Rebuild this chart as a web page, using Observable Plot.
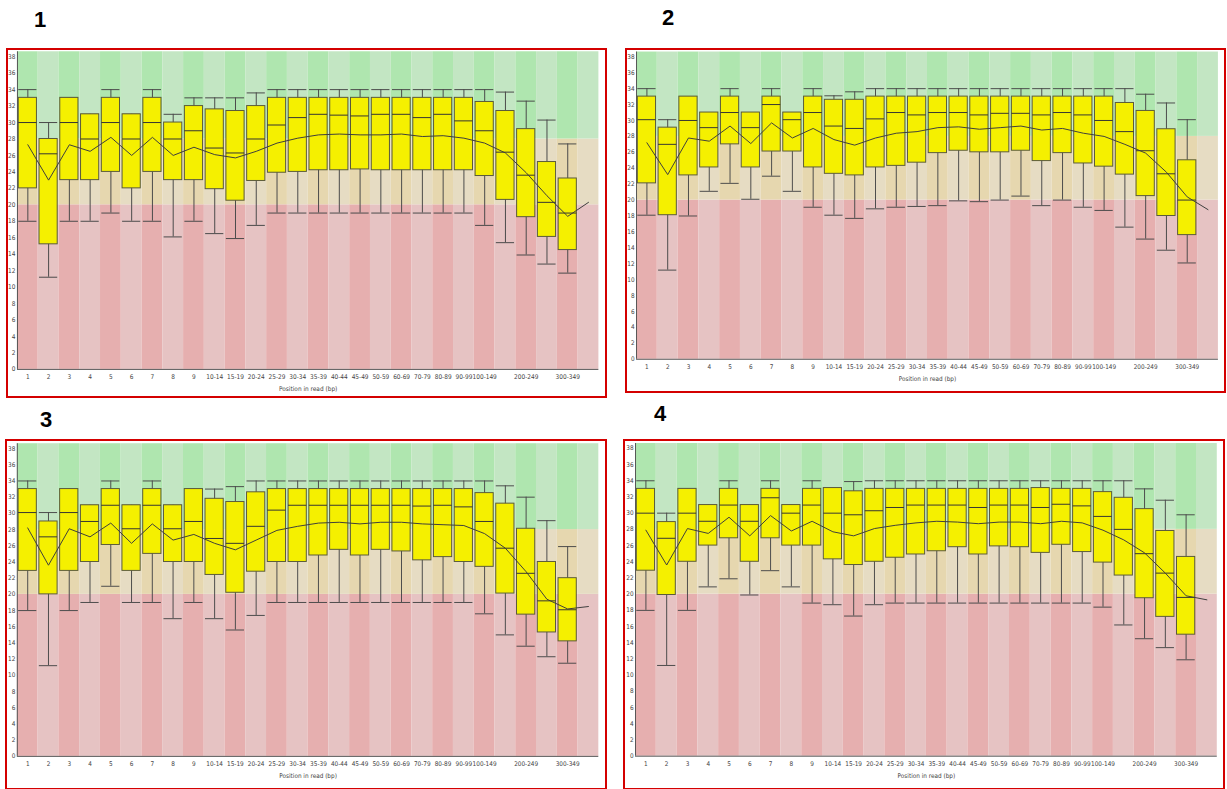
<!DOCTYPE html>
<html><head><meta charset="utf-8">
<script src="https://cdn.jsdelivr.net/npm/d3@7"></script>
<script src="https://cdn.jsdelivr.net/npm/@observablehq/plot@0.6"></script>
<style>
html,body{margin:0;padding:0;background:#fff;}
body{width:1227px;height:789px;overflow:hidden;position:relative;font-family:"Liberation Sans",Arial,sans-serif}
.num{position:absolute;font-weight:bold;font-size:22px;color:#000;line-height:1}
.panel{position:absolute;box-sizing:border-box;border:2px solid #d40000;overflow:hidden;background:#fff}
.panel svg{position:absolute;left:0;top:0;overflow:visible}
</style></head><body>
<div class="num" style="left:34px;top:9px">1</div>
<div class="num" style="left:662px;top:7px">2</div>
<div class="num" style="left:40px;top:409px">3</div>
<div class="num" style="left:654px;top:403px">4</div>
<div id="p1" class="panel"></div>
<div id="p2" class="panel"></div>
<div id="p3" class="panel"></div>
<div id="p4" class="panel"></div>
<script>
// ---------- data ----------
const positions = ["1","2","3","4","5","6","7","8","9","10-14","15-19","20-24","25-29","30-34","35-39","40-44","45-49","50-59","60-69","70-79","80-89","90-99","100-149","150-199","200-249","250-299","300-349","350-351"];
const hiddenTicks = ["150-199","250-299","350-351"];
const yTicks = [0,2,4,6,8,10,12,14,16,18,20,22,24,26,28,30,32,34,36,38];
const xTitle = "Position in read (bp)";

// Panel 1
const p1_p10 = [18,11.2,18,18,19,18,18,16.1,18,16.5,15.9,17.5,19,19,19,19,19,19,19,19,19,19,17.5,15.4,13.9,12.8,11.7];
const p1_q1  = [22,15.2,23,23,24,22,24,23,23,21.9,20.5,22.9,23.9,24,24.2,24.2,24.3,24.2,24.2,24.2,24.2,24.2,23.5,20.6,18.5,16.1,14.5];
const p1_med = [30,26.2,30,28,30,28,30,28,29,26.9,26.3,28,29.7,30.6,31,30.9,30.8,31,31,30.6,31,30.2,29,26.4,23.6,20.3,19];
const p1_q3  = [33,28,33,31,33,31,33,30,32,31.6,31.4,32,33,33,33,33,33,33,33,33,33,33,32.5,31.4,29.2,25.2,23.2];
const p1_p90 = [34,30,33,31,34,31,34,31,33,33,33,33.6,34,34,34,34,34,34,34,34,34,34,34,33.7,32.6,30.3,27.4];
const p1_mean= [27.3,23,27.3,26.5,28.2,26,28.2,26,27,26.1,25.7,26.5,27.5,28.1,28.5,28.6,28.5,28.5,28.6,28.3,28.4,28.1,27.5,26.3,23.9,21.1,18.6,20.3];

// Panel 2
const p2_p10 = [18.1,11.2,18,21.1,22.1,20.1,23,21.1,19.1,18.1,17.7,18.9,19.1,19.2,19.3,19.9,19.8,20,20.5,19.3,20,19.1,18.7,16.6,15.1,13.7,12.1];
const p2_q1  = [22.1,18.1,23.1,24.1,27,24.1,26.1,26.1,24.1,23.3,23.1,24.1,24.3,24.7,25.9,26.2,26,26,26.2,24.9,25.9,24.6,24.2,23.2,20.5,18,15.6];
const p2_med = [30.1,27,30,29.1,31,29.1,32,30.1,31,29.3,29,30.2,31,30.7,31,31,30.7,30.9,30.9,30.7,31,30.7,30,28.6,26.2,23.3,20];
const p2_q3  = [33,29.1,33,31,33,31,33,31,33,32.6,32.6,33,33,33,33,33,33,33,33,33,33,33,33,32.2,31.2,28.9,25];
const p2_p90 = [34,30.1,33,31,34,31,34,31,34,33.1,33.6,34,34,34,34,34,34,34,34,34,34,34,34,34,33.3,32.2,30.1];
const p2_mean= [27.2,23.2,27.8,27.4,29.3,27.1,29.7,27.8,29,27.6,26.9,27.8,28.4,28.6,29.1,29.2,28.9,29.1,29.3,28.8,29,28.4,28,27,25.9,23.5,20.4,18.8];

// Panel 3
const p3_p10 = [18,11.2,18,19,21,19,19,17,19,17,15.6,17.4,19,19,19,19,19,19,19,19,19,19,17.6,15,13.6,12.3,11.5];
const p3_q1  = [22.9,20,22.9,24,26.1,22.9,25,24,24,22.4,20.2,22.8,24,24,24.8,25.5,24.8,25.5,25.3,24.2,24.6,24,23.4,20.1,17.5,15.3,14.2];
const p3_med = [30.1,27.1,30.1,29,31,28.1,31,28.1,29,26.9,26.3,28.4,30.4,31,31,31,31,31,31,30.9,31,30.8,29,25.7,22.6,19.2,18.1];
const p3_q3  = [33,29,33,31,33,31,33,31,33,31.8,31.4,32.6,33,33,33,33,33,33,33,33,33,33,32.5,31.2,28.1,24,22];
const p3_p90 = [34,30.1,33,31,34,31,34,31,33,33,33.3,34,34,34,34,34,34,34,34,34,34,34,34,33.4,32,29.1,25.9];
const p3_mean= [28.2,23.6,28.1,27.1,28.8,26.3,28.7,26.7,27.4,26.3,25.5,26.7,27.9,28.4,28.8,28.9,28.7,28.9,28.9,28.7,28.6,28.5,27.5,25.7,22.8,19.4,18.2,18.5];

// Panel 4
const p4_p10 = [18,11.2,18,20.9,21.9,19.9,22.9,20.9,18.9,18.7,17.3,18.7,18.9,18.9,18.9,18.9,18.9,18.9,18.9,18.9,18.9,18.9,18.4,16.2,14.5,13.4,11.9];
const p4_q1  = [22.9,19.9,24,26,26.9,24,26.9,26,26,24.3,23.6,24,24.5,24.9,25.3,25.8,24.9,25.9,25.8,25.1,26.1,25.2,23.9,22.3,19.5,17.2,15];
const p4_med = [30,26.9,30,29,31,29,31.9,30,31,30,29.8,30.3,30.7,31,31,31,30.7,31,31,30.7,31.1,30.9,29.6,28,25,22.6,19.6];
const p4_q3  = [33,28.9,33,31,33,31,33,31,33,33.1,32.7,33,33,33,33,33,33,33,33,33.1,33,33,32.6,31.9,30.5,27.8,24.6];
const p4_p90 = [34,30,33,31,34,31,34,31,34,33.1,33.9,34,34,34,34,34,34,34,34,34,34,34,34,34,33,31.6,29.8];
const p4_mean= [27.9,23.6,28.1,27.5,29.5,27.2,29.7,27.8,29,27.7,27.2,28.1,28.5,28.8,29,28.9,28.7,28.9,28.9,28.7,29,28.8,27.9,26.7,25.1,22.6,19.8,19.3];

// ---------- style / layout ----------
const YMAX = 38.6;
const zoneBreaks = [0, 20, 28, YMAX];
const zoneDark  = ["rgb(230,175,175)","rgb(230,215,175)","rgb(175,230,175)"];
const zoneLight = ["rgb(230,195,195)","rgb(230,220,195)","rgb(195,230,195)"];
const BOX_FILL = "#f5f000";
const INK = "#4a4a4a";
const FONT = "'Liberation Sans Narrow','DejaVu Sans Condensed','Liberation Sans',sans-serif";

const panels = [
  {id:"p1", stats:[p1_p10,p1_q1,p1_med,p1_q3,p1_p90,p1_mean], box:{left:6,top:48,right:607,bottom:398}, x0:17, band:20.87, yZero:370.5, unit:8.27},
  {id:"p2", stats:[p2_p10,p2_q1,p2_med,p2_q3,p2_p90,p2_mean], box:{left:625,top:48,right:1226,bottom:393}, x0:636.2, band:21.2, yZero:365, unit:8.12},
  {id:"p3", stats:[p3_p10,p3_q1,p3_med,p3_q3,p3_p90,p3_mean], box:{left:5,top:439,right:607,bottom:790}, x0:17, band:21.15, yZero:761.7, unit:8.25},
  {id:"p4", stats:[p4_p10,p4_q1,p4_med,p4_q3,p4_p90,p4_mean], box:{left:623,top:439,right:1225,bottom:790}, x0:635.2, band:21.16, yZero:761.5, unit:8.25}
];

function drawPanel(P) {
  const el = document.getElementById(P.id);
  const b = P.box;
  el.style.left = b.left + "px"; el.style.top = b.top + "px";
  el.style.width = (b.right - b.left) + "px"; el.style.height = (b.bottom - b.top) + "px";
  const innerL = b.left + 2, innerT = b.top + 2, innerH = b.bottom - b.top - 4;
  const n = positions.length;
  const plotRight = P.x0 + n * P.band;
  const W = Math.ceil(plotRight - innerL + 6);
  const mL = P.x0 - innerL, mR = W - (plotRight - innerL);
  const yTop = P.yZero - YMAX * P.unit;
  const mT = yTop - innerT, mB = innerH - (P.yZero - innerT);
  const [p10, q1, med, q3, p90, mean] = P.stats;
  const boxIdx = d3.range(q1.length);
  const meanIdx = d3.range(mean.length);
  const bg = [];
  positions.forEach((p, i) => {
    for (let z = 0; z < 3; z++) bg.push({i, lo: zoneBreaks[z], hi: zoneBreaks[z+1], fill: (i % 2 === 0 ? zoneDark : zoneLight)[z]});
  });
  const inset = 1.3;
  const chart = Plot.plot({
    width: W, height: innerH,
    marginLeft: mL, marginRight: mR, marginTop: mT, marginBottom: mB,
    style: {fontFamily: FONT, fontSize: "6.5px", color: "#444", background: "transparent", overflow: "visible"},
    x: {type: "linear", domain: [0, n], ticks: positions.map((d, i) => i + 0.5),
        tickFormat: v => { const l = positions[Math.floor(v)]; return hiddenTicks.includes(l) ? "" : l; },
        tickSize: 0, tickPadding: 5, label: xTitle, labelAnchor: "center", labelOffset: 22, labelArrow: "none"},
    y: {domain: [0, YMAX], ticks: yTicks, tickSize: 0, tickPadding: 2, label: null},
    marks: [
      Plot.rect(bg, {x1: d => d.i, x2: d => d.i + 1, y1: "lo", y2: "hi", fill: "fill"}),
      Plot.ruleX(boxIdx, {x: i => i + 0.5, y1: i => p10[i], y2: i => p90[i], stroke: INK, strokeWidth: 1}),
      Plot.ruleY(boxIdx, {x1: i => i, x2: i => i + 1, y: i => p90[i], stroke: INK, strokeWidth: 1, insetLeft: inset, insetRight: inset}),
      Plot.ruleY(boxIdx, {x1: i => i, x2: i => i + 1, y: i => p10[i], stroke: INK, strokeWidth: 1, insetLeft: inset, insetRight: inset}),
      Plot.rect(boxIdx, {x1: i => i, x2: i => i + 1, y1: i => q1[i], y2: i => q3[i], fill: BOX_FILL, stroke: "#5a5a3a", strokeWidth: 1, insetLeft: inset, insetRight: inset}),
      Plot.ruleY(boxIdx, {x1: i => i, x2: i => i + 1, y: i => med[i], stroke: "#333", strokeWidth: 1, insetLeft: inset, insetRight: inset}),
      Plot.line(meanIdx, {x: i => i + 0.5, y: i => mean[i], stroke: "#3c3c3c", strokeWidth: 1}),
      Plot.ruleX([0], {stroke: "#555"}),
      Plot.ruleY([0], {stroke: "#555"})
    ]
  });
  el.appendChild(chart);
}
panels.forEach(drawPanel);
</script>
</body></html>
